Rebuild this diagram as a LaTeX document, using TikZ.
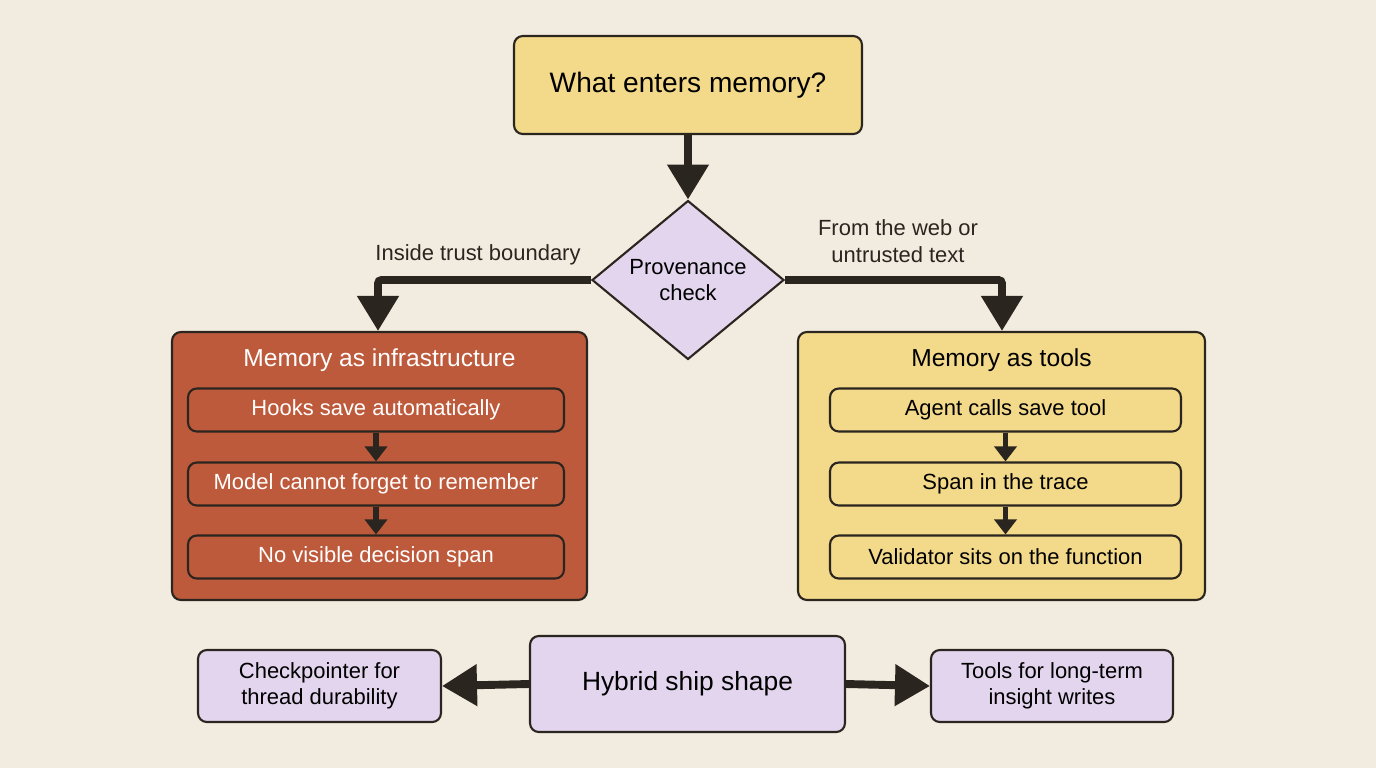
\documentclass[tikz,border=0pt]{standalone}
\usepackage{fontspec}
\setmainfont{Liberation Sans}
\usetikzlibrary{arrows.meta,shapes.geometric}
\definecolor{bgcol}{HTML}{F2ECE0}
\definecolor{yellowbox}{HTML}{F3D98A}
\definecolor{rustbox}{HTML}{BE5A3C}
\definecolor{lavbox}{HTML}{E3D5EE}
\definecolor{inkcol}{HTML}{2B2520}
\tikzset{
  box/.style={draw=inkcol,line width=1.2pt,rounded corners=5pt,align=center,inner sep=0pt},
  subbox/.style={box,minimum height=0.86cm,font=\fontsize{12.5}{14}\selectfont},
  bigarrow/.style={draw=inkcol,line width=4.5pt,-{Triangle[width=0.8cm,length=0.7cm]}},
  smallarrow/.style={draw=inkcol,line width=3pt,-{Triangle[width=0.44cm,length=0.3cm]}},
  lbl/.style={font=\fontsize{12.5}{15}\selectfont,align=center,text=inkcol}
}
\begin{document}
\begin{tikzpicture}[x=0.02cm,y=-0.02cm]
\fill[bgcol] (0,0) rectangle (1376,768);
\useasboundingbox (0,0) rectangle (1376,768);
% top question
\node[box,fill=yellowbox,minimum width=6.96cm,minimum height=1.96cm,font=\fontsize{16}{19}\selectfont] (q) at (688,85) {What enters memory?};
\node[draw=inkcol,line width=1.2pt,fill=lavbox,shape=diamond,inner sep=0pt,minimum width=3.84cm,minimum height=3.04cm,align=center,font=\fontsize{12.5}{15}\selectfont] (prov) at (688,280) {Provenance\\check};
\draw[bigarrow] (q.south) -- (prov.north);
% left branch
\node[box,fill=rustbox,minimum width=8.3cm,minimum height=5.36cm] (infra) at (379.5,466) {};
\node[text=white,font=\fontsize{14}{17}\selectfont] (infrat) at (379.5,360) {Memory as infrastructure};
\node[subbox,fill=rustbox,text=white,minimum width=7.52cm] (l1) at (376,410) {Hooks save automatically};
\node[subbox,fill=rustbox,text=white,minimum width=7.52cm] (l2) at (376,484) {Model cannot forget to remember};
\node[subbox,fill=rustbox,text=white,minimum width=7.52cm] (l3) at (376,557) {No visible decision span};
\draw[smallarrow] (l1.south) -- (l2.north);
\draw[smallarrow] (l2.south) -- (l3.north);
\coordinate (lc) at (378,280);
\draw[bigarrow,rounded corners=2pt] (prov.west) -- (lc) -- (infra.north -| lc);
\node[lbl] (inl) at (478,255) {Inside trust boundary};
% right branch
\node[box,fill=yellowbox,minimum width=8.14cm,minimum height=5.36cm] (tools) at (1001.5,466) {};
\node[text=black,font=\fontsize{14}{17}\selectfont] (toolst) at (1001.5,360) {Memory as tools};
\node[subbox,fill=yellowbox,minimum width=7.02cm] (r1) at (1005.5,410) {Agent calls save tool};
\node[subbox,fill=yellowbox,minimum width=7.02cm] (r2) at (1005.5,484) {Span in the trace};
\node[subbox,fill=yellowbox,minimum width=7.02cm] (r3) at (1005.5,557) {Validator sits on the function};
\draw[smallarrow] (r1.south) -- (r2.north);
\draw[smallarrow] (r2.south) -- (r3.north);
\coordinate (rc) at (1002,280);
\draw[bigarrow,rounded corners=2pt] (prov.east) -- (rc) -- (tools.north -| rc);
\node[lbl] (outl) at (898,241) {From the web or\\untrusted text};
% bottom
\node[box,fill=lavbox,minimum width=6.3cm,minimum height=1.92cm,font=\fontsize{15}{18}\selectfont] (hyb) at (687.5,684) {Hybrid ship shape};
\node[box,fill=lavbox,minimum width=4.86cm,minimum height=1.44cm,font=\fontsize{12.5}{15}\selectfont] (ck) at (319.5,686) {Checkpointer for\\thread durability};
\node[box,fill=lavbox,minimum width=4.84cm,minimum height=1.44cm,font=\fontsize{12.5}{15}\selectfont] (lt) at (1052,686) {Tools for long-term\\insight writes};
\draw[bigarrow] (hyb.west) -- (ck.east);
\draw[bigarrow] (hyb.east) -- (lt.west);
\end{tikzpicture}
\end{document}
